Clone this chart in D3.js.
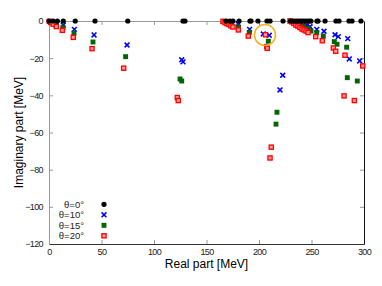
<!DOCTYPE html>
<html>
<head>
  <title>complex scaling resonances</title>
  <script src="https://d3js.org/d3.v7.min.js"></script>
  <style>
    body { margin: 0; background: #fff; }
    text { font-family: "Liberation Sans", Arial, sans-serif; }
  </style>
</head>
<body>
  <div id="chart"></div>
  <script type="text/javascript">
    // eigenvalues [Re, Im] in MeV for each rotation angle
    var theta0 = [0, 4, 8, 13.6, 25, 43.8, 75, 127.6, 129.5, 168.6, 172.4, 175.2, 181, 191.4, 192.4, 199,
      207.6, 210.5, 222.9, 230, 232, 234, 236, 238, 240, 242, 244, 246, 248, 249.5, 255.2, 256.2, 262.9,
      273.3, 276.2, 285.7, 288.6, 297.1].map(function (re) { return [re, 0] })
    var theta10 = [[1.5, -0.4], [3.8, -1], [6.5, -1.8], [13.6, -2.2], [24.1, -4.5], [42.9, -7.5], [74.3, -12.9],
      [126.4, -20.9], [127.6, -22], [168, -0.3], [173.3, -0.6], [180.3, -1.6], [191, -4.5], [204.1, -7],
      [209.8, -7.7], [222.6, -29.2], [220, -37.1], [240.7, -1.2], [245.4, -2.2], [248.6, -3.1], [255, -4.5],
      [261.9, -5.5], [272.4, -7.4], [275.5, -8.4], [284.5, -9.5], [286, -20.4], [295.9, -21.5]]
    var theta15 = [[1.6, -0.6], [3.9, -1.3], [6.8, -2.4], [13.3, -3.4], [23.8, -6.6], [41.9, -11.3], [73, -19.2],
      [124.8, -31.2], [126.4, -32.3], [180.3, -3.2], [190.8, -6.1], [208.9, -10.9], [217.1, -49.1], [216.2, -55.5],
      [241.9, -2.7], [246.7, -4], [249.5, -5.4], [255, -6.3], [261.2, -8.1], [271.7, -11.1], [274.3, -12.5],
      [283.5, -14.1], [284.1, -30.5], [293.6, -32.3]]
    var theta20 = [[0.3, -0.2], [1.8, -0.8], [4, -1.7], [7, -3], [12.7, -5], [23.1, -8.8], [41, -14.9], [71.1, -25.4],
      [122.2, -41.2], [123.1, -42.8], [165.7, -0.2], [167.6, -0.8], [169.5, -1.4], [171.4, -1.9], [173.3, -2.6],
      [175.2, -3.2], [180.3, -4.8], [189.8, -8.1], [206.2, -7.4], [207.4, -13.8], [207.9, -14.7], [211.7, -67.9],
      [210.5, -73.7], [229.5, 0], [231.4, -0.5], [233.3, -1.3], [235.2, -2.2], [237.1, -2.7], [239, -3.5],
      [241, -4.3], [242.9, -4.8], [244.8, -5.4], [246.7, -6.2], [254, -8.4], [260.3, -10.6], [270.8, -14.5],
      [273, -16.3], [281.9, -18.4], [281, -40.3], [290.8, -42.8], [298.8, -24.2]]
    var legendLabels = ["θ=0°", "θ=10°", "θ=15°", "θ=20°"]
    var xTicks = [0, 50, 100, 150, 200, 250, 300]
    var yTicks = [0, -20, -40, -60, -80, -100, -120]

    var width = 382, height = 286
    var margin = { top: 21, right: 18, bottom: 42, left: 49 }
    var svg = d3.select("#chart").append("svg").attr("width", width).attr("height", height)

    var x = d3.scaleLinear().domain([0, 300]).range([margin.left, width - margin.right])
    var y = d3.scaleLinear().domain([-120, 0]).range([height - margin.bottom, margin.top])

    // axes, gnuplot style: ticks pointing inwards
    function styleAxis(g, color) {
      g.select(".domain").attr("stroke", color)
      g.selectAll(".tick line").attr("stroke", "#999")
      g.selectAll(".tick text").attr("fill", "#222").style("font-size", "9px").style("letter-spacing", "-0.6px")
    }
    svg.append("g").attr("transform", "translate(0," + y(-120) + ")")
      .call(d3.axisBottom(x).tickValues(xTicks).tickSizeInner(-4).tickSizeOuter(0).tickPadding(4.5))
      .call(styleAxis, "#333")
    svg.append("g").attr("transform", "translate(0," + y(0) + ")")
      .call(d3.axisTop(x).tickValues(xTicks).tickSizeInner(-4).tickSizeOuter(0).tickFormat(""))
      .call(styleAxis, "#999")
    svg.append("g").attr("transform", "translate(" + x(0) + ",0)")
      .call(d3.axisLeft(y).tickValues(yTicks).tickSizeInner(-4).tickSizeOuter(0).tickPadding(6))
      .call(styleAxis, "#999")
    svg.append("g").attr("transform", "translate(" + x(300) + ",0)")
      .call(d3.axisRight(y).tickValues(yTicks).tickSizeInner(-4).tickSizeOuter(0).tickFormat(""))
      .call(styleAxis, "#111")
    svg.selectAll("g .tick").filter(function (d) { return d === 0 || d === 300 || d === -120 }).select("line").remove()

    svg.append("text").attr("x", (x(0) + x(300)) / 2).attr("y", 268).attr("text-anchor", "middle")
      .style("font-size", "12px").text("Real part [MeV]")
    svg.append("text").attr("transform", "translate(23," + (y(0) + y(-120)) / 2 + ") rotate(-90)")
      .attr("text-anchor", "middle").style("font-size", "12px").text("Imaginary part [MeV]")

    // markers
    function drawCross(sel, pts, color) {
      sel.selectAll(null).data(pts).enter().append("path")
        .attr("d", function (d) {
          var cx = x(d[0]), cy = y(d[1]), s = 2.4
          return "M" + (cx - s) + "," + (cy - s) + "L" + (cx + s) + "," + (cy + s) +
            "M" + (cx - s) + "," + (cy + s) + "L" + (cx + s) + "," + (cy - s)
        })
        .attr("stroke", color).attr("stroke-width", 1.6).attr("fill", "none")
    }
    function drawSquare(sel, pts, fill, stroke, s) {
      sel.selectAll(null).data(pts).enter().append("rect")
        .attr("x", function (d) { return x(d[0]) - s / 2 }).attr("y", function (d) { return y(d[1]) - s / 2 })
        .attr("width", s).attr("height", s)
        .attr("fill", fill).attr("stroke", stroke).attr("stroke-width", 1.3)
    }
    function drawDot(sel, pts) {
      sel.selectAll(null).data(pts).enter().append("circle")
        .attr("cx", function (d) { return x(d[0]) }).attr("cy", function (d) { return y(d[1]) })
        .attr("r", 2.6).attr("fill", "#000")
    }
    var marks = svg.append("g")
    drawCross(marks, theta10, "#0000ff")
    drawSquare(marks, theta15, "#006400", "#006400", 3.6)
    drawSquare(marks, theta20, "#ff9a9a", "#ff0000", 4.2)
    drawDot(marks, theta0)

    // highlighted resonance
    svg.append("circle").attr("cx", x(205.7)).attr("cy", y(-7.5)).attr("r", 10.5)
      .attr("fill", "none").attr("stroke", "#f5b321").attr("stroke-width", 1.6)

    // legend
    var legend = svg.append("g")
    legendLabels.forEach(function (lab, i) {
      var ly = 204.3 + i * 10.5
      legend.append("text").attr("x", 84).attr("y", ly + 3.3).attr("text-anchor", "end")
        .style("font-size", "9.5px").attr("fill", "#222").text(lab)
      var p = [x.invert(104), y.invert(ly)]
      if (i === 0) drawDot(legend, [p])
      if (i === 1) drawCross(legend, [p], "#0000ff")
      if (i === 2) drawSquare(legend, [p], "#006400", "#006400", 3.6)
      if (i === 3) drawSquare(legend, [p], "#ff9a9a", "#ff0000", 4.2)
    })
  </script>
</body>
</html>
